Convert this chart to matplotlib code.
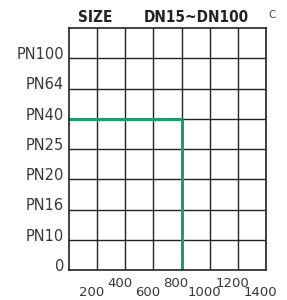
import matplotlib.pyplot as plt

# pressure ratings (bottom to top) and pipe lengths on x
pn_labels = ['0', 'PN10', 'PN16', 'PN20', 'PN25', 'PN40', 'PN64', 'PN100']
x_ticks = [200, 400, 600, 800, 1000, 1200, 1400]
x_max = 1400
# rated point: 800 at PN40
rated_x = 800
rated_pn = 'PN40'

fig = plt.figure(figsize=(2.87, 3.0), dpi=100)
ax = fig.add_axes([69 / 287, 30 / 300, 197 / 287, 242 / 300])

n_rows = len(pn_labels)
ax.set_xlim(0, x_max)
ax.set_ylim(0, n_rows)

# grid
for x in x_ticks:
    ax.axvline(x, color='#222222', lw=1.0)
for i in range(1, n_rows):
    ax.axhline(i, color='#222222', lw=1.0)
for s in ax.spines.values():
    s.set_color('#222222')
    s.set_linewidth(1.2)

# green rating line
y_rated = pn_labels.index(rated_pn)
green = '#1a9e6e'
ax.plot([0, rated_x], [y_rated, y_rated], color=green, lw=2.2, solid_capstyle='butt')
ax.plot([rated_x, rated_x], [y_rated, 0], color=green, lw=2.2, solid_capstyle='butt')

ax.set_xticks([])
ax.set_yticks([])

# y labels slightly above each line
for i, lab in enumerate(pn_labels):
    ax.text(-0.025, i + 0.12, lab, transform=ax.get_yaxis_transform(),
            ha='right', va='center', fontsize=10.5, color='#383838')

# x labels, staggered
for j, x in enumerate(x_ticks):
    yoff = -0.095 if j % 2 == 0 else -0.055
    ax.text(x - 40, yoff, str(x), transform=ax.get_xaxis_transform(),
            ha='center', va='center', fontsize=9.5, color='#383838')

fig.text(95 / 287, 1 - 17 / 300, 'SIZE', ha='center', va='center',
         fontsize=11, fontweight='bold', fontstretch='condensed', color='#222222')
fig.text(196 / 287, 1 - 17 / 300, 'DN15~DN100', ha='center', va='center',
         fontsize=11, fontweight='bold', fontstretch='condensed', color='#222222')
fig.text(272 / 287, 1 - 15 / 300, 'C', ha='center', va='center',
         fontsize=7.5, color='#444444')

fig.savefig('out.png', dpi=100, facecolor='white')
